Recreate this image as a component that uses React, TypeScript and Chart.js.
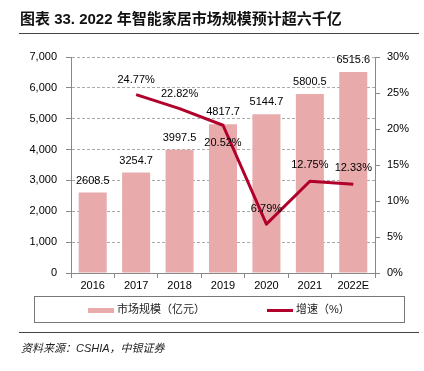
import React, { useEffect, useRef } from "react";
import { Chart, registerables } from "chart.js";

Chart.register(...registerables);

const categories = ["2016", "2017", "2018", "2019", "2020", "2021", "2022E"];
const marketSize = [2608.5, 3254.7, 3997.5, 4817.7, 5144.7, 5800.5, 6515.6];
const growth = [null, 24.77, 22.82, 20.52, 6.79, 12.75, 12.33];
const growthLabelOffsets = [0, -15, -15, 18, -15, -16, -16];
const leftTicks = [0, 1000, 2000, 3000, 4000, 5000, 6000, 7000];
const rightTicks = [0, 5, 10, 15, 20, 25, 30];

const titleText = "图表 33. 2022 年智能家居市场规模预计超六千亿";
const sourceText = "资料来源：CSHIA，中银证券";
const barLegend = "市场规模（亿元）";
const lineLegend = "增速（%）";

const BAR_COLOR = "#e8aaaa";
const LINE_COLOR = "#b0002b";
const FONT = '"Liberation Sans", "Noto Sans CJK SC", sans-serif';

const labelPlugin = {
  id: "valueLabels",
  afterDatasetsDraw(chart: any) {
    const ctx = chart.ctx;
    ctx.save();
    ctx.font = `11px ${FONT}`;
    ctx.fillStyle = "#000";
    ctx.textAlign = "center";
    ctx.textBaseline = "middle";
    const barMeta = chart.getDatasetMeta(0);
    barMeta.data.forEach((el: any, i: number) => {
      ctx.fillText(marketSize[i].toFixed(1), el.x, el.y - 12);
    });
    const lineMeta = chart.getDatasetMeta(1);
    lineMeta.data.forEach((el: any, i: number) => {
      const v = growth[i];
      if (v == null) return;
      ctx.fillText(v.toFixed(2) + "%", el.x, el.y + growthLabelOffsets[i]);
    });
    ctx.restore();
  },
};

export default function App() {
  const ref = useRef<HTMLCanvasElement>(null);
  useEffect(() => {
    const chart = new Chart(ref.current as HTMLCanvasElement, {
      type: "bar",
      data: {
        labels: categories,
        datasets: [
          {
            type: "bar",
            label: barLegend,
            data: marketSize,
            backgroundColor: BAR_COLOR,
            yAxisID: "y",
            categoryPercentage: 1,
            barPercentage: 0.645,
            order: 2,
          },
          {
            type: "line",
            label: lineLegend,
            data: growth as any,
            borderColor: LINE_COLOR,
            backgroundColor: LINE_COLOR,
            borderWidth: 3,
            pointRadius: 0,
            borderJoinStyle: "round",
            tension: 0,
            yAxisID: "y1",
            order: 1,
          },
        ],
      },
      options: {
        animation: false,
        responsive: false,
        maintainAspectRatio: false,
        layout: { padding: { left: 0, right: 0, top: 57, bottom: 78 } },
        plugins: { legend: { display: false }, tooltip: { enabled: false } },
        scales: {
          x: {
            afterFit: (s: any) => { s.height = 20; },
            grid: { display: true, drawOnChartArea: false, drawTicks: true, tickLength: 5, color: "#888", offset: true },
            border: { color: "#888", width: 1 },
            ticks: { color: "#000", font: { size: 11, family: FONT }, padding: 1, maxRotation: 0 },
          },
          y: {
            position: "left",
            min: 0,
            max: 7000,
            afterFit: (s: any) => { s.width = 71; },
            afterBuildTicks: (s: any) => { s.ticks = leftTicks.map((v) => ({ value: v })); },
            grid: { color: "#aaa", lineWidth: 1, tickLength: 5, tickColor: "#888" },
            border: { color: "#888", width: 1, dash: [3, 2] },
            ticks: {
              color: "#000",
              font: { size: 11, family: FONT },
              padding: 9,
              callback: (v: any) => Number(v).toLocaleString("en-US"),
            },
          },
          y1: {
            position: "right",
            min: 0,
            max: 30,
            afterFit: (s: any) => { s.width = 49; },
            afterBuildTicks: (s: any) => { s.ticks = rightTicks.map((v) => ({ value: v })); },
            grid: { drawOnChartArea: false, tickLength: 5, color: "#888" },
            border: { color: "#888", width: 1 },
            ticks: {
              color: "#000",
              font: { size: 11, family: FONT },
              padding: 7,
              callback: (v: any) => v + "%",
            },
          },
        },
      },
      plugins: [labelPlugin],
    } as any);
    return () => chart.destroy();
  }, []);

  return (
    <div style={{ position: "fixed", left: 0, top: 0, width: 424, height: 371, background: "#fff", fontFamily: FONT }}>
      <canvas ref={ref} width={424} height={371} style={{ position: "absolute", left: 0, top: 0, width: 424, height: 371 }} />
      <div style={{ position: "absolute", left: 20, top: 10, fontSize: 15, fontWeight: "bold", lineHeight: "18px", color: "#111", whiteSpace: "nowrap" }}>
        {titleText}
      </div>
      <div style={{ position: "absolute", left: 19, top: 33, width: 400, height: 1, background: "#444" }} />
      <div style={{ position: "absolute", left: 34, top: 296, width: 369, height: 25, border: "1px solid #777", boxSizing: "content-box" }}>
        <div style={{ position: "absolute", left: 53, top: 11, width: 26, height: 5, background: BAR_COLOR }} />
        <div style={{ position: "absolute", left: 82, top: 5, fontSize: 11, lineHeight: "15px", color: "#222", whiteSpace: "nowrap" }}>{barLegend}</div>
        <div style={{ position: "absolute", left: 232, top: 12, width: 26, height: 3, background: LINE_COLOR }} />
        <div style={{ position: "absolute", left: 261, top: 5, fontSize: 11, lineHeight: "15px", color: "#222", whiteSpace: "nowrap" }}>{lineLegend}</div>
      </div>
      <div style={{ position: "absolute", left: 19, top: 332, width: 400, height: 1, background: "#444" }} />
      <div style={{ position: "absolute", left: 21, top: 341, fontSize: 11, fontStyle: "italic", lineHeight: "15px", color: "#222", whiteSpace: "nowrap" }}>
        {sourceText}
      </div>
    </div>
  );
}
